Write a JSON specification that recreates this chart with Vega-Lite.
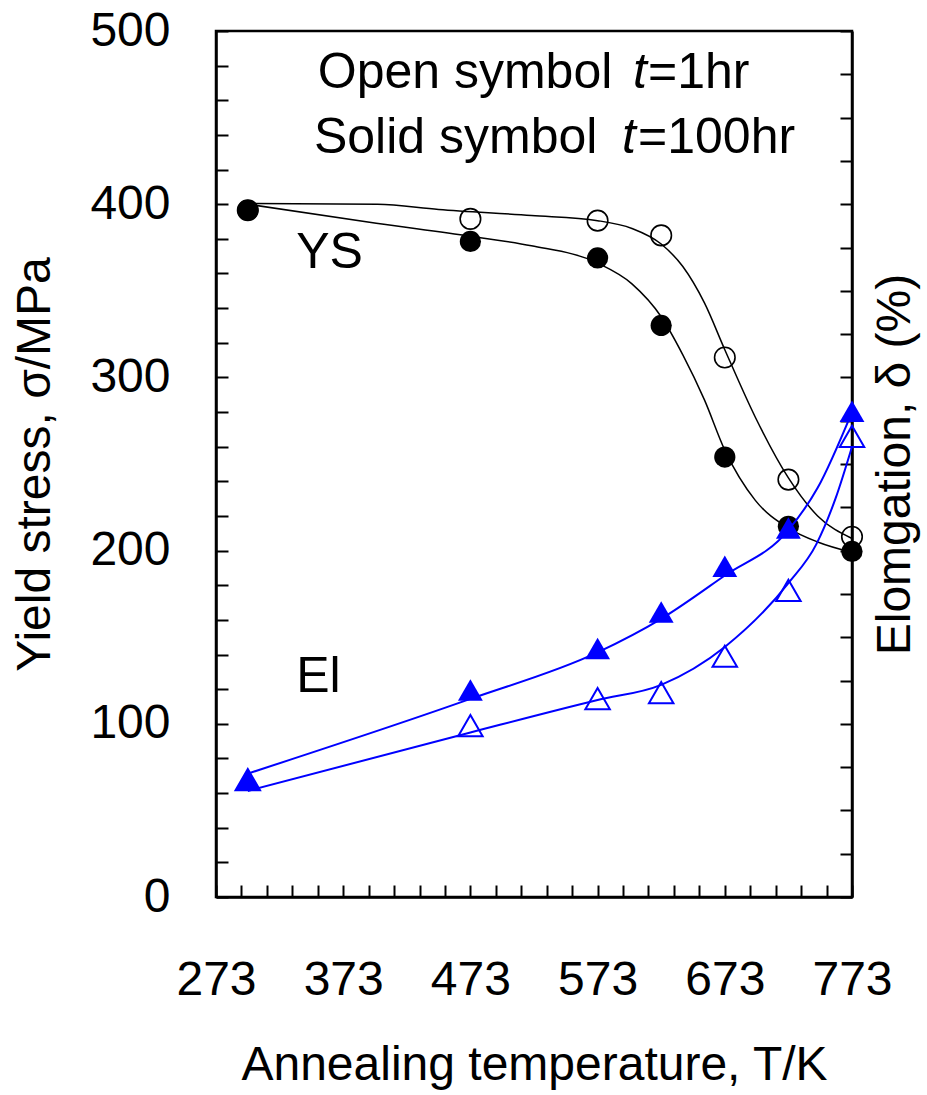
{
  "$schema": "https://vega.github.io/schema/vega-lite/v6.json",
  "width": 636,
  "height": 866,
  "autosize": "none",
  "padding": {"left": 216, "top": 31, "right": 75, "bottom": 198},
  "background": "white",
  "config": {
    "view": {"stroke": "black", "strokeWidth": 2.5},
    "axis": {
      "grid": false,
      "ticks": true,
      "domainColor": "black",
      "domainWidth": 2.5,
      "tickColor": "black",
      "tickWidth": 2,
      "tickSize": -12,
      "labelFont": "Liberation Sans",
      "labelFontSize": 48,
      "labelColor": "black",
      "titleFont": "Liberation Sans",
      "titleFontSize": 48,
      "titleFontWeight": "normal",
      "titleColor": "black",
      "minExtent": 0,
      "maxExtent": 400
    }
  },
  "datasets": {
    "ys": [
      {"T": 298, "t": "1hr", "v": 396.5},
      {"T": 473, "t": "1hr", "v": 391.5},
      {"T": 573, "t": "1hr", "v": 390.5},
      {"T": 623, "t": "1hr", "v": 382},
      {"T": 673, "t": "1hr", "v": 311.5},
      {"T": 723, "t": "1hr", "v": 241},
      {"T": 773, "t": "1hr", "v": 208},
      {"T": 298, "t": "100hr", "v": 396.5},
      {"T": 473, "t": "100hr", "v": 378.5},
      {"T": 573, "t": "100hr", "v": 369},
      {"T": 623, "t": "100hr", "v": 330},
      {"T": 673, "t": "100hr", "v": 254},
      {"T": 723, "t": "100hr", "v": 214},
      {"T": 773, "t": "100hr", "v": 199.5}
    ],
    "ysfit": [
      {"T": 298, "t": "1hr", "v": 400.5},
      {"T": 400, "t": "1hr", "v": 400},
      {"T": 448, "t": "1hr", "v": 397},
      {"T": 521, "t": "1hr", "v": 393.5},
      {"T": 573, "t": "1hr", "v": 390.5},
      {"T": 600, "t": "1hr", "v": 386},
      {"T": 623, "t": "1hr", "v": 377},
      {"T": 640, "t": "1hr", "v": 364},
      {"T": 657, "t": "1hr", "v": 343},
      {"T": 673, "t": "1hr", "v": 316},
      {"T": 697, "t": "1hr", "v": 277},
      {"T": 723, "t": "1hr", "v": 242},
      {"T": 746, "t": "1hr", "v": 220},
      {"T": 773, "t": "1hr", "v": 207},
      {"T": 298, "t": "100hr", "v": 400},
      {"T": 399, "t": "100hr", "v": 389},
      {"T": 473, "t": "100hr", "v": 381.5},
      {"T": 521, "t": "100hr", "v": 376},
      {"T": 573, "t": "100hr", "v": 366},
      {"T": 600, "t": "100hr", "v": 354},
      {"T": 623, "t": "100hr", "v": 335},
      {"T": 640, "t": "100hr", "v": 313},
      {"T": 657, "t": "100hr", "v": 287},
      {"T": 673, "t": "100hr", "v": 258},
      {"T": 697, "t": "100hr", "v": 229},
      {"T": 723, "t": "100hr", "v": 213},
      {"T": 746, "t": "100hr", "v": 205},
      {"T": 773, "t": "100hr", "v": 199}
    ],
    "el": [
      {"T": 298, "t": "1hr", "e": 5.42},
      {"T": 473, "t": "1hr", "e": 7.92},
      {"T": 573, "t": "1hr", "e": 9.16},
      {"T": 623, "t": "1hr", "e": 9.44},
      {"T": 673, "t": "1hr", "e": 11.12},
      {"T": 723, "t": "1hr", "e": 14.16},
      {"T": 773, "t": "1hr", "e": 21.28},
      {"T": 298, "t": "100hr", "e": 5.42},
      {"T": 473, "t": "100hr", "e": 9.56},
      {"T": 573, "t": "100hr", "e": 11.48},
      {"T": 623, "t": "100hr", "e": 13.16},
      {"T": 673, "t": "100hr", "e": 15.28},
      {"T": 723, "t": "100hr", "e": 17.04},
      {"T": 773, "t": "100hr", "e": 22.44}
    ],
    "elfit": [
      {"T": 298, "t": "1hr", "e": 4.9},
      {"T": 473, "t": "1hr", "e": 7.6},
      {"T": 573, "t": "1hr", "e": 9.1},
      {"T": 623, "t": "1hr", "e": 9.8},
      {"T": 673, "t": "1hr", "e": 11.55},
      {"T": 723, "t": "1hr", "e": 14.5},
      {"T": 745, "t": "1hr", "e": 16.3},
      {"T": 760, "t": "1hr", "e": 18.4},
      {"T": 773, "t": "1hr", "e": 20.8},
      {"T": 298, "t": "100hr", "e": 5.7},
      {"T": 473, "t": "100hr", "e": 9.15},
      {"T": 573, "t": "100hr", "e": 11.3},
      {"T": 623, "t": "100hr", "e": 12.85},
      {"T": 673, "t": "100hr", "e": 14.85},
      {"T": 723, "t": "100hr", "e": 16.95},
      {"T": 746, "t": "100hr", "e": 18.9},
      {"T": 773, "t": "100hr", "e": 22.4}
    ]
  },
  "encoding": {
    "x": {
      "field": "T",
      "type": "quantitative",
      "scale": {"domain": [273, 773], "nice": false, "zero": false},
      "axis": {
        "values": [273, 293, 313, 333, 353, 373, 393, 413, 433, 453, 473, 493, 513, 533, 553, 573, 593, 613, 633, 653, 673, 693, 713, 733, 753, 773],
        "labelExpr": "(datum.value - 273) % 100 === 0 ? datum.label : ''",
        "format": "d",
        "labelFlush": false,
        "labelOverlap": false,
        "labelPadding": 71,
        "title": "Annealing temperature, T/K",
        "titlePadding": 37,
        "encode": {"ticks": {"update": {"y2": {"signal": "(datum.value - 273) % 100 === 0 ? -17 : -12"}}}}
      }
    }
  },
  "layer": [
    {
      "encoding": {
        "y": {
          "field": "v",
          "type": "quantitative",
          "scale": {"domain": [0, 500], "nice": false, "zero": true},
          "axis": {
            "orient": "left",
            "values": [0, 20, 40, 60, 80, 100, 120, 140, 160, 180, 200, 220, 240, 260, 280, 300, 320, 340, 360, 380, 400, 420, 440, 460, 480, 500],
            "labelExpr": "datum.value % 100 === 0 ? datum.label : ''",
            "format": "d",
            "labelFlush": false,
            "labelOverlap": false,
            "labelPadding": 58,
            "title": "Yield stress, σ/MPa",
            "titleAngle": 270,
            "titleBaseline": "bottom",
            "titlePadding": 30,
            "encode": {"ticks": {"update": {"x2": {"signal": "datum.value % 100 === 0 ? 17 : 12"}}}}
          }
        }
      },
      "layer": [
        {
          "data": {"name": "ysfit"},
          "mark": {"type": "line", "color": "black", "strokeWidth": 1.5, "interpolate": "monotone"},
          "encoding": {"detail": {"field": "t"}}
        },
        {
          "data": {"name": "ys"},
          "transform": [{"filter": "datum.t === '1hr'"}],
          "mark": {"type": "point", "shape": "circle", "filled": false, "color": "black", "strokeWidth": 1.6, "size": 420, "opacity": 1}
        },
        {
          "data": {"name": "ys"},
          "transform": [{"filter": "datum.t === '100hr'"}],
          "mark": {"type": "point", "shape": "circle", "filled": true, "color": "black", "size": 450, "opacity": 1}
        },
        {
          "data": {"values": [
            {"T": 353, "v": 467, "txt": "Open symbol"},
            {"T": 612.6, "v": 467, "txt": "=1hr"},
            {"T": 350, "v": 429.6, "txt": "Solid symbol"},
            {"T": 604.8, "v": 429.6, "txt": "=100hr"},
            {"T": 336, "v": 363, "txt": "YS"},
            {"T": 336, "v": 118.4, "txt": "El"}
          ]},
          "mark": {"type": "text", "align": "left", "baseline": "alphabetic", "font": "Liberation Sans", "fontSize": 50, "color": "black"},
          "encoding": {"text": {"field": "txt"}}
        },
        {
          "data": {"values": [
            {"T": 600.8, "v": 467, "txt": "t"},
            {"T": 592.2, "v": 429.6, "txt": "t"}
          ]},
          "mark": {"type": "text", "align": "left", "baseline": "alphabetic", "font": "Liberation Sans", "fontSize": 50, "fontStyle": "italic", "color": "black"},
          "encoding": {"text": {"field": "txt"}}
        }
      ]
    },
    {
      "encoding": {
        "y": {
          "field": "e",
          "type": "quantitative",
          "scale": {"domain": [0, 40], "nice": false, "zero": true},
          "axis": {
            "orient": "right",
            "values": [0, 2, 4, 6, 8, 10, 12, 14, 16, 18, 20, 22, 24, 26, 28, 30, 32, 34, 36, 38, 40],
            "labels": false,
            "title": "Elomgation, δ (%)",
            "titleAngle": 270,
            "titleBaseline": "top",
            "titlePadding": 18
          }
        }
      },
      "layer": [
        {
          "data": {"name": "elfit"},
          "mark": {"type": "line", "color": "#0000ff", "strokeWidth": 2, "interpolate": "monotone"},
          "encoding": {"detail": {"field": "t"}}
        },
        {
          "data": {"name": "el"},
          "transform": [{"filter": "datum.t === '1hr'"}],
          "mark": {"type": "point", "shape": "triangle-up", "filled": false, "color": "#0000ff", "strokeWidth": 2, "size": 600, "opacity": 1}
        },
        {
          "data": {"name": "el"},
          "transform": [{"filter": "datum.t === '100hr'"}],
          "mark": {"type": "point", "shape": "triangle-up", "filled": true, "color": "#0000ff", "size": 620, "opacity": 1}
        }
      ]
    }
  ],
  "resolve": {"scale": {"y": "independent"}}
}
